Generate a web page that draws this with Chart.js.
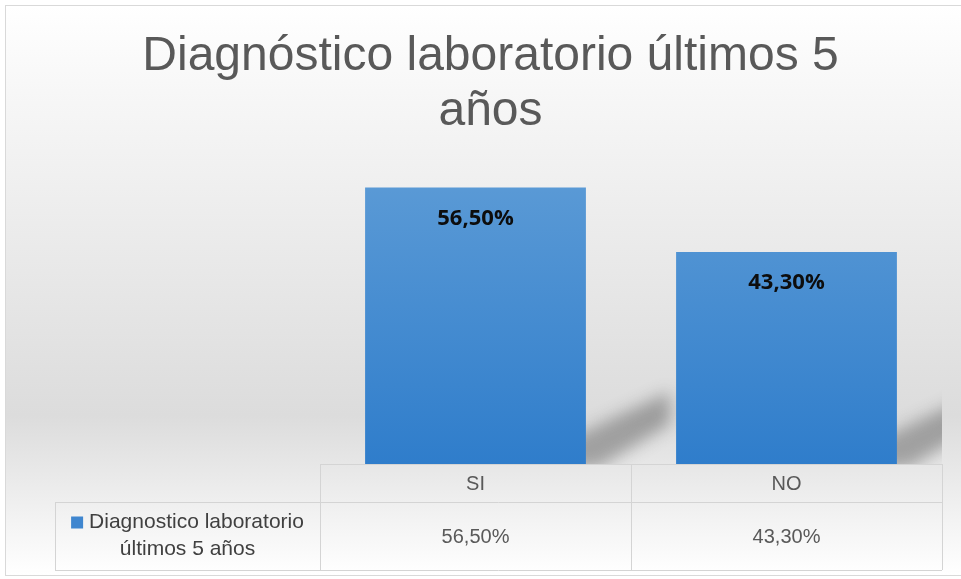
<!DOCTYPE html>
<html>
<head>
<meta charset="utf-8">
<script src="https://cdn.jsdelivr.net/npm/chart.js@4/dist/chart.umd.min.js"></script>
<style>
  html, body { margin: 0; padding: 0; background: #ffffff; }
  canvas { display: block; }
</style>
</head>
<body>
<canvas id="c" width="961" height="579"></canvas>
<script>
// ---- data ----
const categories = ['SI', 'NO'];
const values = [56.5, 43.3];
const seriesName = 'Diagnostico laboratorio últimos 5 años';
const titleLines = ['Diagnóstico laboratorio últimos 5', 'años'];

// ---- helpers ----
const NARROW = '"Liberation Sans Narrow", "Arial Narrow", "Liberation Sans", Arial, sans-serif';
function fmt(v) { return v.toFixed(2).replace('.', ',') + '%'; }

const bgPlugin = {
  id: 'bg',
  beforeDraw(chart) {
    const ctx = chart.ctx;
    ctx.save();
    ctx.fillStyle = '#ffffff';
    ctx.fillRect(0, 0, chart.width, chart.height);
    const g = ctx.createLinearGradient(0, 6, 0, chart.height - 4);
    g.addColorStop(0, '#ffffff');
    g.addColorStop(0.15, '#f7f7f7');
    g.addColorStop(0.72, '#dcdcdc');
    g.addColorStop(1, '#ffffff');
    ctx.fillStyle = g;
    ctx.fillRect(6, 6, chart.width - 6, chart.height - 10);
    ctx.strokeStyle = '#d9d9d9';
    ctx.lineWidth = 1;
    ctx.strokeRect(5.5, 5.5, chart.width, chart.height - 9);
    ctx.restore();
  }
};

const shadowPlugin = {
  id: 'barShadow',
  beforeDatasetsDraw(chart) {
    const ctx = chart.ctx;
    const area = chart.chartArea;
    const meta = chart.getDatasetMeta(0);
    const OFF = 5000;
    ctx.save();
    ctx.beginPath();
    ctx.rect(area.left, area.top, area.right - area.left, area.bottom - area.top);
    ctx.clip();
    ctx.shadowColor = 'rgba(70,70,70,0.42)';
    ctx.shadowBlur = 16;
    ctx.shadowOffsetX = OFF;
    ctx.shadowOffsetY = 0;
    ctx.fillStyle = '#000';
    meta.data.forEach(bar => {
      const p = bar.getProps(['x', 'base', 'width'], true);
      const right = p.x + p.width / 2 - OFF;
      const b = p.base;
      const len = p.width * 0.38;
      ctx.beginPath();
      ctx.moveTo(right - 20, b + 4);
      ctx.lineTo(right + 12, b + 4);
      ctx.lineTo(right + len, b - 40);
      ctx.lineTo(right + len, b - 72);
      ctx.lineTo(right - 20, b - 24);
      ctx.closePath();
      ctx.fill();
    });
    ctx.restore();
  }
};

const labelPlugin = {
  id: 'valueLabels',
  afterDatasetsDraw(chart) {
    const ctx = chart.ctx;
    const meta = chart.getDatasetMeta(0);
    ctx.save();
    ctx.fillStyle = '#0d0d0d';
    ctx.font = 'bold 22px "Open Sans", "Liberation Sans", sans-serif';
    ctx.textAlign = 'center';
    ctx.textBaseline = 'middle';
    meta.data.forEach((bar, i) => {
      ctx.fillText(fmt(chart.data.datasets[0].data[i]), bar.x, bar.y + 31);
    });
    ctx.restore();
  }
};

const tablePlugin = {
  id: 'dataTable',
  afterDraw(chart) {
    const ctx = chart.ctx;
    const xs = chart.scales.x;
    const top = chart.chartArea.bottom;
    const row1 = top + 38;
    const row2 = row1 + 68;
    const legLeft = 55;
    const n = chart.data.labels.length;
    const bounds = [xs.left];
    for (let i = 0; i < n - 1; i++) {
      bounds.push((xs.getPixelForValue(i) + xs.getPixelForValue(i + 1)) / 2);
    }
    bounds.push(xs.right);
    ctx.save();
    ctx.strokeStyle = '#d4d4d4';
    ctx.lineWidth = 1;
    ctx.beginPath();
    ctx.moveTo(xs.left, top + 0.5); ctx.lineTo(xs.right, top + 0.5);
    ctx.moveTo(legLeft, row1 + 0.5); ctx.lineTo(xs.right, row1 + 0.5);
    ctx.moveTo(legLeft, row2 + 0.5); ctx.lineTo(xs.right, row2 + 0.5);
    bounds.forEach(bx => { ctx.moveTo(Math.round(bx) + 0.5, top); ctx.lineTo(Math.round(bx) + 0.5, row2); });
    ctx.moveTo(legLeft + 0.5, row1); ctx.lineTo(legLeft + 0.5, row2);
    ctx.stroke();

    const ds = chart.data.datasets[0];
    ctx.fillStyle = '#595959';
    ctx.font = '20px ' + NARROW;
    ctx.textAlign = 'center';
    ctx.textBaseline = 'middle';
    const rowMid = (row1 + row2) / 2;
    ds.data.forEach((v, i) => {
      ctx.fillText(fmt(v), xs.getPixelForValue(i), rowMid + 1);
    });

    ctx.font = '21px ' + NARROW;
    ctx.fillStyle = '#404040';
    const cellW = xs.left - legLeft;
    const sq = 12, gap = 6;
    const words = ds.label.split(' ');
    const lines = [];
    let cur = '';
    words.forEach(w => {
      const test = cur ? cur + ' ' + w : w;
      const extra = lines.length === 0 ? sq + gap : 0;
      if (ctx.measureText(test).width + extra > cellW - 16 && cur) { lines.push(cur); cur = w; }
      else cur = test;
    });
    if (cur) lines.push(cur);
    const lh = 27;
    const cx = (legLeft + xs.left) / 2;
    const startY = rowMid - (lines.length - 1) * lh / 2;
    lines.forEach((ln, i) => {
      const y = startY + i * lh;
      if (i === 0) {
        const w = ctx.measureText(ln).width + sq + gap;
        const x0 = cx - w / 2;
        ctx.fillStyle = ds.borderColor;
        ctx.fillRect(x0, y - sq / 2, sq, sq);
        ctx.fillStyle = '#404040';
        ctx.textAlign = 'left';
        ctx.fillText(ln, x0 + sq + gap, y);
      } else {
        ctx.textAlign = 'center';
        ctx.fillText(ln, cx, y);
      }
    });
    ctx.restore();
  }
};

const ctx = document.getElementById('c').getContext('2d');
new Chart(ctx, {
  type: 'bar',
  data: {
    labels: categories,
    datasets: [{
      label: seriesName,
      data: values,
      borderColor: '#3f86cf',
      borderWidth: 0,
      backgroundColor(c) {
        const a = c.chart.chartArea;
        if (!a) return '#4a8fd3';
        const g = c.chart.ctx.createLinearGradient(0, a.top, 0, a.bottom);
        g.addColorStop(0, '#5c9bd6');
        g.addColorStop(1, '#2f7dcb');
        return g;
      },
      categoryPercentage: 0.71,
      barPercentage: 1
    }]
  },
  options: {
    responsive: false,
    devicePixelRatio: 1,
    animation: false,
    layout: { padding: { left: 39, right: 19, top: 12, bottom: 0 } },
    plugins: {
      legend: { display: false },
      tooltip: { enabled: false },
      title: {
        display: true,
        text: titleLines,
        color: '#595959',
        font: { family: NARROW, size: 48, weight: 'normal', lineHeight: 1.15 },
        padding: { top: 17, bottom: 31 }
      }
    },
    scales: {
      x: {
        grid: { display: false, drawTicks: false },
        border: { display: false },
        ticks: { color: '#595959', font: { family: NARROW, size: 20 }, padding: 8 },
        afterFit(s) { s.height = 115; }
      },
      y: {
        min: 0, max: 60,
        grid: { display: false, drawTicks: false },
        border: { display: false },
        ticks: { display: false },
        afterFit(s) { s.width = 281; }
      }
    }
  },
  plugins: [bgPlugin, shadowPlugin, labelPlugin, tablePlugin]
});
</script>
</body>
</html>
